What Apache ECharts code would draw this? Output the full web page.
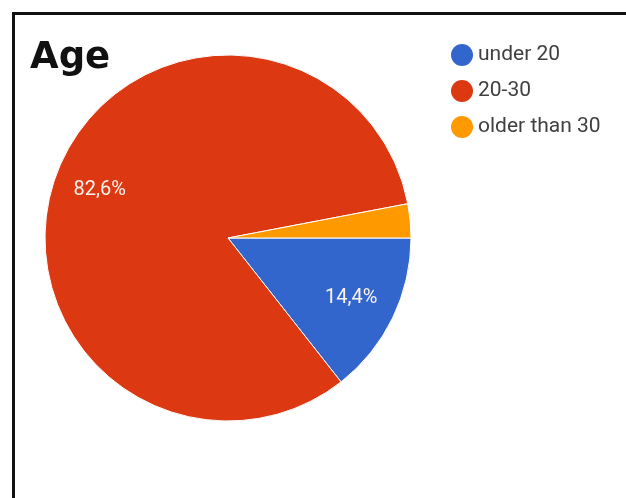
<!DOCTYPE html>
<html>
<head>
<meta charset="utf-8">
<script src="https://cdn.jsdelivr.net/npm/echarts@6/dist/echarts.min.js"></script>
<style>
  html, body { margin: 0; padding: 0; background: #fff; }
  #chart { width: 626px; height: 498px; }
</style>
</head>
<body>
<div id="chart"></div>
<script>
// Age groups and their shares (percent)
const categories = ['under 20', '20-30', 'older than 30'];
const shares = [14.4, 82.6, 3.0];
const colors = ['#3366cc', '#dc3912', '#ff9900'];

const sliceData = categories.map((name, i) => ({ name: name, value: shares[i] }));
const fmt = v => v.toFixed(1).replace('.', ',') + '%';

const chart = echarts.init(document.getElementById('chart'), null, { renderer: 'canvas' });
chart.setOption({
  animation: false,
  color: colors,
  title: {
    text: 'Age',
    left: 25,
    top: 35,
    textStyle: { fontFamily: 'DejaVu Sans', fontWeight: 'bold', fontSize: 37, color: '#111' }
  },
  legend: {
    orient: 'vertical',
    left: 446,
    top: 39,
    icon: 'circle',
    itemWidth: 22,
    itemHeight: 22,
    itemGap: 14,
    itemTextGap: 8,
    itemStyle: { borderWidth: 0 },
    textStyle: { fontFamily: 'Roboto', fontSize: 21, color: '#404040' },
    data: categories,
    selectedMode: false
  },
  graphic: [{
    type: 'polyline',
    shape: { points: [[13.5, 498], [13.5, 13.5], [626, 13.5]] },
    style: { stroke: '#111', lineWidth: 3, fill: null },
    silent: true
  }],
  series: [
    {
      type: 'pie',
      center: [228, 238],
      radius: [0, 183],
      startAngle: 0,
      clockwise: true,
      avoidLabelOverlap: false,
      label: { show: false },
      labelLine: { show: false },
      itemStyle: { borderColor: '#fff', borderWidth: 1 },
      emphasis: { disabled: true },
      data: sliceData
    },
    {
      // transparent ring used only to place the percentage labels
      type: 'pie',
      center: [228, 238],
      radius: [85, 183],
      startAngle: 0,
      clockwise: true,
      silent: true,
      avoidLabelOverlap: false,
      itemStyle: { color: 'rgba(0,0,0,0)', borderWidth: 0 },
      labelLine: { show: false },
      label: {
        show: true,
        position: 'inside',
        fontFamily: 'Roboto',
        fontSize: 20,
        color: '#fdf3ee',
        formatter: p => (p.value >= 5 ? fmt(p.value) : '')
      },
      emphasis: { disabled: true },
      data: sliceData
    }
  ]
});
</script>
</body>
</html>
